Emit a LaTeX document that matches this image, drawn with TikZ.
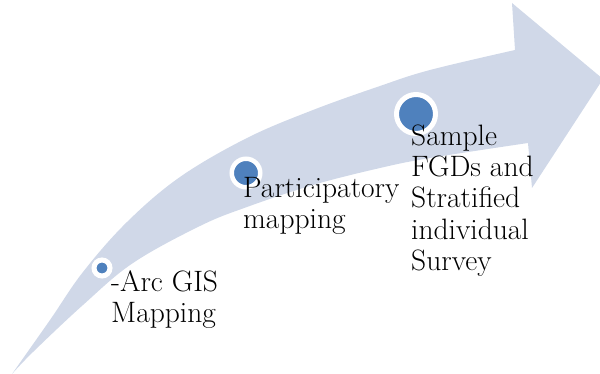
\documentclass[tikz,border=0pt]{standalone}
\begin{document}
\begin{tikzpicture}[x=1pt,y=-1pt,
  band/.style={fill=arrowfill,draw=none},
  dotsmall/.style={circle,fill=dotblue,draw=white,line width=5pt,inner sep=0pt,minimum size=16pt},
  dotmid/.style={circle,fill=dotblue,draw=white,line width=4.5pt,inner sep=0pt,minimum size=28.5pt},
  dotbig/.style={circle,fill=dotblue,draw=white,line width=5pt,inner sep=0pt,minimum size=39pt},
  steplabel/.style={anchor=base west,inner sep=0pt,align=left,
    font=\fontsize{29.5}{31.5}\selectfont}]
\definecolor{arrowfill}{RGB}{208,216,232}
\definecolor{dotblue}{RGB}{79,129,189}
\useasboundingbox (0,0) rectangle (600,374);

% curved arrow band
\path[band]
  plot[smooth,tension=0.6] coordinates {(12,374) (50,320) (83,272) (127,222) (180,177)
        (247,138) (313,110) (380,86) (430,70) (515,50)}
  -- (512,3) -- (603,79) -- (532,188) -- (528,143)
  -- plot[smooth,tension=0.6] coordinates {(528,143) (430,158) (380,168) (313,185)
        (247,207) (200,226) (133,263) (83,305) (33,352) (12,374)}
  -- cycle;

% milestones
\node[dotsmall] (d1) at (102,268) {};
\node[dotmid]   (d2) at (246,173) {};
\node[dotbig]   (d3) at (416,114) {};

% labels (anchored at the baseline of their last line)
\node[steplabel] (t1) at (111,323) {-Arc GIS\\Mapping};
\node[steplabel] (t2) at (243,229) {Participatory\\mapping};
\node[steplabel] (t3) at (411,271) {Sample\\FGDs and\\Stratified\\individual\\Survey};
\end{tikzpicture}
\end{document}
